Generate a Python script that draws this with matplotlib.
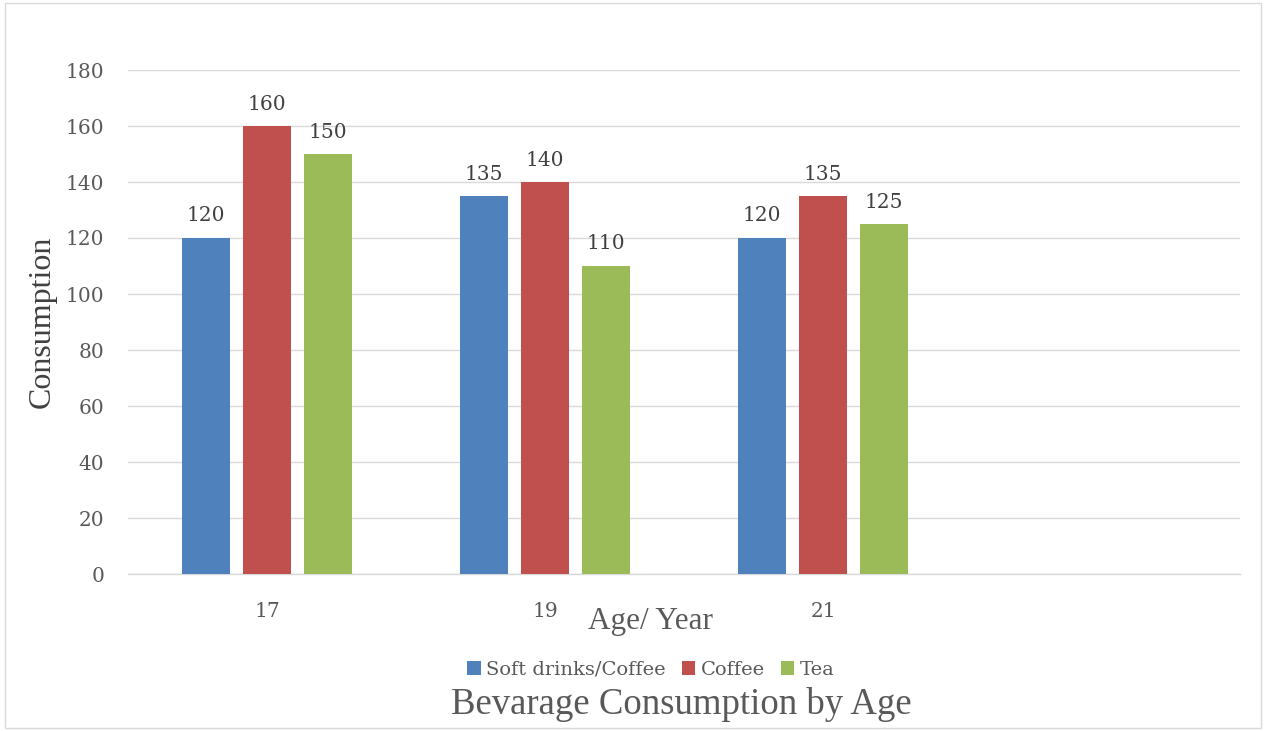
import matplotlib
matplotlib.use("Agg")
import matplotlib.pyplot as plt
import numpy as np
from matplotlib.patches import Rectangle

categories = ["17", "19", "21", ""]
series_names = ["Soft drinks/Coffee", "Coffee", "Tea"]
soft = [120, 135, 120, None]
coffee = [160, 140, 135, None]
tea = [150, 110, 125, None]
colors = ["#4f81bd", "#c0504d", "#9bbb59"]
yticks = [0, 20, 40, 60, 80, 100, 120, 140, 160, 180]

W, H = 1266, 731
fig = plt.figure(figsize=(W/100, H/100), dpi=100)
fig.patch.set_facecolor("white")
fig.add_artist(Rectangle((0.004, 0.004), 0.992, 0.992, transform=fig.transFigure,
                         fill=False, edgecolor="#d9d9d9", linewidth=1))
ax = fig.add_axes([128/W, 1-574/H, (1240-128)/W, (574-70)/H])

tick_font = "DejaVu Serif"
title_font = "Liberation Serif"
gray = "#595959"

x = np.arange(len(categories))
width = 0.173
step = 0.22
for i, (name, vals) in enumerate(zip(series_names, [soft, coffee, tea])):
    xs = [xi + (i-1)*step for xi, v in zip(x, vals) if v is not None]
    vs = [v for v in vals if v is not None]
    bars = ax.bar(xs, vs, width=width, color=colors[i], label=name, zorder=3)
    for b, v in zip(bars, vs):
        ax.annotate(str(v), (b.get_x()+b.get_width()/2, v), xytext=(0, 9),
                    textcoords="offset points", ha="center", va="bottom",
                    fontsize=14.5, family=tick_font, color="#404040")

ax.set_xlim(-0.5, len(categories)-0.5)
ax.set_ylim(0, 180)
ax.set_yticks(yticks)
ax.set_xticks(x)
ax.set_xticklabels(categories)
ax.grid(axis="y", color="#d9d9d9", linewidth=1, zorder=0)
for s in ["top", "right", "left"]:
    ax.spines[s].set_visible(False)
ax.spines["bottom"].set_color("#d9d9d9")
ax.spines["bottom"].set_linewidth(1)
ax.tick_params(axis="both", length=0, colors=gray, labelsize=14.5)
ax.tick_params(axis="y", pad=17)
ax.tick_params(axis="x", pad=20)
for lab in ax.get_xticklabels() + ax.get_yticklabels():
    lab.set_family(tick_font)
    lab.set_color(gray)

fig.text(42/W, 1-322/H, "Consumption", rotation=90, ha="center", va="center",
         fontsize=23, family=title_font, color="#404040")
fig.text(651/W, 1-621/H, "Age/ Year", ha="center", va="center",
         fontsize=22.5, family=title_font, color=gray)
fig.text(681/W, 1-704/H, "Bevarage Consumption by Age", ha="center", va="center",
         fontsize=26.5, family=title_font, color=gray)

leg = fig.legend(loc="center", bbox_to_anchor=(651/W, 1-670/H), ncol=3, frameon=False,
                 prop={"family": tick_font, "size": 14}, handlelength=0.7, handleheight=0.7,
                 handletextpad=0.3, columnspacing=0.8)
for t in leg.get_texts():
    t.set_color(gray)

fig.savefig("out.png", dpi=100, facecolor="white")
